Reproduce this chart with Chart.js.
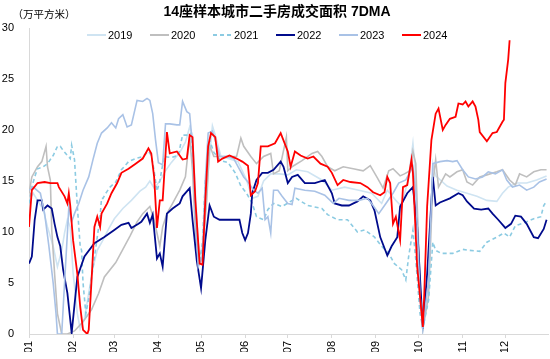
<!DOCTYPE html>
<html>
<head>
<meta charset="utf-8">
<script src="https://cdn.jsdelivr.net/npm/chart.js@4.4.0/dist/chart.umd.min.js"></script>
<style>
  html, body { margin: 0; padding: 0; background: #fff; }
  #wrap { width: 550px; height: 359px; }
</style>
</head>
<body>
<div id="wrap"><canvas id="myChart"></canvas></div>
<script>
// month starts as day-of-year (leap year axis), tick labels
const monthStarts = [0, 31, 60, 91, 121, 152, 182, 213, 244, 274, 305, 335];
const monthLabels = ['01', '02', '03', '04', '05', '06', '07', '08', '09', '10', '11', '12'];
const yTicks = [0, 5, 10, 15, 20, 25, 30];
const years = ['2019', '2020', '2021', '2022', '2023', '2024'];

// day of year / value (万平方米)
const days2019 = [0,3,6,10,13,17,20,23,25,27,29,31,34,36,39,42,45,48,52,56,60,66,72,78,82,85,88,92,96,100,106,110,113,115,117,119,121,123,126,129,131,135,140,147,153,157,161,165,170,176,182,188,196,206,213,222,232,241,248,252,258,262,267,270,272,275,277,281,284,286,294,301,308,315,322,329,333,337,343,350,357,364];
const vals2019 = [13.1,13.8,13.1,12.2,10.5,8.6,6.6,8.2,9.9,11.2,10.5,6,2,0.5,1.5,4,6.5,8.2,9.2,10.3,11.3,12.3,13.1,14.0,14.4,15.0,14.3,15,16,16.8,17.8,18.8,20.3,19.5,14,9,7.5,10,16,20.4,19.5,17.4,17.2,16.9,15.1,13.3,13.5,15,15.7,15.7,15.6,16.1,15.9,15.1,14.1,14.4,14.1,13.8,12.8,14.1,13.1,12.5,15.4,18.7,15.4,3.7,0.5,5.3,16.7,15.5,14.5,14.1,13.8,13.5,13.1,13.0,13.8,14.4,14.8,14.8,15.1,15.5];

const days2020 = [0,2,6,9,12,13,15,16,18,20,23,27,32,38,44,49,53,61,66,71,76,80,85,88,92,94,97,101,106,110,113,115,117,119,122,125,127,130,138,146,149,151,156,160,165,170,172,176,181,182,185,192,199,203,206,210,215,221,228,235,240,245,249,253,256,261,264,268,270,272,275,277,281,284,286,288,293,296,301,305,308,312,317,322,329,333,338,342,345,350,355,360,364];
const vals2020 = [13.8,15.4,16.4,16.9,18.4,16.4,15.1,10.2,5.9,2.0,0,0,0.3,1.2,2.4,4,5.6,7.0,8.3,9.6,11.0,11.8,12.5,11.2,8.6,10.5,11.8,12.8,14.1,15.4,19.3,16,10,7.6,8.2,13.1,18.5,17.4,17.4,17.4,19.2,18.4,17.4,16.7,17.4,17.7,15.7,16.0,19.3,16.0,16.4,17.0,17.7,17.9,17.4,16.4,16.0,16.4,16.2,16.0,16.5,15.3,14.3,16.0,16.2,15.5,15.7,16.0,17.9,16.7,4.7,0.5,3.7,14.8,17.1,14.4,15.7,15.4,15.9,16.1,14.9,14.6,15.4,15.6,15.9,16.1,15.1,14.6,15.7,15.4,15.9,16.1,16.1];

const days2021 = [0,2,4,6,10,13,17,20,22,24,27,29,30,32,34,36,37,38,40,42,44,46,48,50,51,52,54,57,61,65,70,75,80,84,86,88,90,92,95,100,105,108,112,114,116,118,120,122,124,127,130,135,140,145,149,153,157,160,165,168,172,178,184,188,196,206,210,217,224,231,236,243,248,253,257,262,265,267,270,272,275,277,281,284,286,290,298,305,310,317,322,329,334,338,342,350,355,360,362,364];
const vals2021 = [12.8,14.4,15.4,16.2,16.4,16.7,17.5,18.4,18.4,18.0,17.5,17.2,18.5,17.1,12.5,8.6,8.2,5,2,3.5,5.5,7.5,9.5,11.5,13.3,13.3,13.8,14.4,14.9,16.1,16.9,17.2,17.4,17.9,17.5,16,14,15,17.4,17.3,17.5,19.5,19.5,19.7,15,9,7,9,15,19.0,17.8,17.0,16.8,15.8,14.5,13.8,12.8,11.5,11.2,12.2,12.8,12.5,13.0,13.3,12.6,12.3,11.7,11.2,11.2,10.0,10.2,9.5,8.6,7.9,6.9,6.3,5.3,7.6,10.2,7.3,2.0,0.6,3.3,9.0,8.2,7.9,7.9,8.3,8.2,8.1,9.0,9.5,9.9,9.5,10.6,11.0,11.3,11.5,12.6,13.0];

const days2022 = [0,2,4,6,9,10,13,16,18,20,22,24,27,29,30,34,39,46,53,60,65,70,72,77,79,83,85,87,90,92,94,97,101,106,108,113,115,118,121,124,127,130,134,141,148,150,152,154,156,157,160,164,168,172,177,179,182,185,189,194,201,208,213,215,220,225,231,235,240,243,247,252,255,259,261,266,270,273,277,280,284,286,289,296,302,305,308,313,318,323,326,330,335,339,342,346,350,355,358,362,364];
const vals2022 = [6.9,7.6,11.2,13.1,13.1,12.2,12.6,12.3,10.8,9.5,8.6,6.3,4.0,1.4,0.1,5.6,7.6,8.9,9.5,10.2,10.7,10.9,10.4,10.8,11.0,11.8,10.9,11.7,7.4,7.9,6.6,11.8,12.3,12.8,13.5,14.3,11.2,7.2,4.5,9.2,12.6,11.5,11.2,11.2,11.2,9.9,9.2,9.9,11.8,13.8,15.1,15.8,15.8,16.1,16.9,16.4,14.8,15.4,15.6,14.8,14.8,15.1,13.8,12.8,12.6,12.6,13.0,13.5,13.1,12.1,9.5,7.7,8.6,9.5,12.5,13.8,14.4,10.5,0.5,5.9,15.4,12.6,12.9,13.3,13.8,13.6,13.0,12.3,12.2,12.3,11.8,11.2,10.4,10.8,11.6,11.5,10.8,9.5,9.4,10.3,11.2];

const days2023 = [0,3,8,11,14,17,19,20,23,25,27,28,30,32,35,38,42,45,48,51,55,58,61,63,66,69,72,76,80,83,85,87,89,91,94,96,99,104,106,108,111,113,115,117,119,122,124,126,129,131,134,139,144,147,151,154,158,161,164,166,168,170,172,175,178,182,185,187,194,201,208,214,218,225,232,238,242,246,251,256,260,265,270,272,275,277,281,284,289,294,298,301,305,309,314,319,323,328,333,336,340,345,350,355,359,364];
const vals2023 = [14.1,14.4,13.8,11.8,8.6,5.0,2.0,0,0,5,9.9,12.4,11,11.8,12.8,14.1,15.4,17.1,18.7,19.7,20.2,20.7,20.2,21.1,21.5,20.3,20.5,22.9,22.8,23.1,22.9,21.6,19,16.8,16.6,20.6,20.6,20.5,20.5,22.8,21.8,21.6,18.4,11.8,6.6,7.6,15.1,19.7,19.9,19.0,17.4,17.4,17.2,16.4,15.4,14.9,14.1,13.8,14.3,11.2,11.5,9.9,14.1,14.1,13.5,12.8,12.7,14.3,14.1,14.0,13.6,12.8,13.3,13.1,13.1,13.3,12.6,11.8,12.8,13.8,14.8,15.1,16.4,14.1,3.7,0.5,5.3,16.7,16.9,17.0,16.9,17.0,16.1,15.4,15.2,15.4,15.9,15.7,16.1,15.1,14.4,14.6,14.1,14.4,14.9,15.2];

const days2024 = [0,2,6,11,15,20,21,25,27,28,29,31,34,36,38,41,42,44,46,48,50,51,55,58,62,65,70,75,80,84,86,88,90,92,94,97,99,104,108,111,113,115,117,120,122,124,126,128,131,133,136,141,146,150,154,156,159,161,163,168,173,177,182,184,187,191,196,200,205,210,213,217,221,226,233,238,242,247,250,252,254,256,258,261,263,266,269,270,273,277,278,280,283,286,288,291,293,296,300,302,305,307,309,312,314,316,317,322,326,329,333,334,335,337,338];
const vals2024 = [10.5,14.1,14.8,14.9,14.8,14.8,14.4,13.5,12.8,13.8,12.6,9.2,5.9,2.7,0.4,0,0.4,5.3,10.5,11.5,10.5,11.8,12.8,13.8,14.8,15.8,16.2,16.7,17.2,18.2,17.7,15.4,10.4,13.1,13.1,19.8,17.7,17.9,17.1,17.2,19.5,19.3,13.1,6.9,6.8,13.1,18.4,19.7,19.3,16.9,17.2,17.5,17.2,16.9,16.5,13.6,14.0,14.8,18.4,18.4,18.7,19.7,17.9,16.4,17.9,17.5,17.2,17.4,16.7,16.4,15.8,14.6,15.1,14.9,14.8,14.4,13.9,13.6,13.9,15.4,14.8,10.8,11.5,9.2,14.4,14.6,17.1,15.8,6.6,0.7,4.0,12.5,19.0,21.6,22.1,20.0,20.5,21.1,21.3,22.6,22.5,22.8,22.3,22.8,22.3,21.0,19.8,18.9,19.7,19.8,20.8,21.0,24.6,26.9,28.8];

const allDays = [days2019, days2020, days2021, days2022, days2023, days2024];
const allVals = [vals2019, vals2020, vals2021, vals2022, vals2023, vals2024];
const colors = ['#cfe4f2', '#bfbfbf', '#8ccbe2', '#000b8c', '#a9c2e6', '#ff0000'];
const widths = [1.6, 1.6, 1.6, 1.8, 1.6, 1.8];
const dashes = [[], [], [4, 3], [], [], []];

const font = "'Liberation Sans', Arial, 'Noto Sans CJK SC', sans-serif";
const cjkFont = "'Noto Sans CJK SC', sans-serif";
Chart.defaults.font.family = font;
Chart.defaults.font.size = 11;
Chart.defaults.color = '#000';

const datasets = years.map((y, i) => ({
    label: y,
    data: allDays[i].map((d, j) => ({ x: d, y: allVals[i][j] })),
    borderColor: colors[i],
    backgroundColor: colors[i],
    borderWidth: widths[i],
    borderDash: dashes[i],
    pointRadius: 0,
    tension: 0,
    order: 5 - i
}));

// title, unit and legend sit on top of the plot area
const headerPlugin = {
    id: 'header',
    afterDraw(chart) {
        const c = chart.ctx;
        c.save();
        c.fillStyle = '#000';
        c.textBaseline = 'middle';
        c.font = 'bold 14px ' + font;
        c.textAlign = 'center';
        c.fillText('14座样本城市二手房成交面积 7DMA', 277, 12);
        c.font = '10.5px ' + cjkFont;
        c.fillText('（万平方米）', 44, 14);
        c.font = '11px ' + font;
        c.textAlign = 'left';
        years.forEach((y, i) => {
            const x = 87 + i * 63;
            c.beginPath();
            c.strokeStyle = colors[i];
            c.lineWidth = 2;
            c.setLineDash(dashes[i]);
            c.moveTo(x, 35);
            c.lineTo(x + 19, 35);
            c.stroke();
            c.setLineDash([]);
            c.fillStyle = '#000';
            c.fillText(y, x + 21, 35.5);
        });
        c.restore();
    }
};

const ctx = document.getElementById('myChart');
const myChart = new Chart(ctx, {
    type: 'line',
    data: { datasets: datasets },
    options: {
        responsive: true,
        maintainAspectRatio: false,
        animation: false,
        layout: { padding: { top: 28, right: 2, bottom: 7, left: 2 } },
        plugins: {
            legend: { display: false },
            title: { display: false },
            tooltip: { enabled: false }
        },
        scales: {
            x: {
                type: 'linear',
                min: 0,
                max: 365,
                afterBuildTicks: axis => { axis.ticks = monthStarts.map(v => ({ value: v })); },
                afterFit: axis => { axis.height = 18; },
                grid: { drawOnChartArea: false, drawTicks: true, tickLength: 4, color: '#d9d9d9' },
                border: { color: '#d9d9d9' },
                ticks: {
                    autoSkip: false,
                    minRotation: 90,
                    maxRotation: 90,
                    padding: 3,
                    callback: (v, i) => monthLabels[i]
                }
            },
            y: {
                min: 0,
                max: 30,
                afterBuildTicks: axis => { axis.ticks = yTicks.map(v => ({ value: v })); },
                afterFit: axis => { axis.width = 27; },
                grid: { display: false, drawTicks: false },
                border: { color: '#d9d9d9' },
                ticks: { padding: 15 }
            }
        }
    },
    plugins: [headerPlugin]
});
</script>
</body>
</html>
